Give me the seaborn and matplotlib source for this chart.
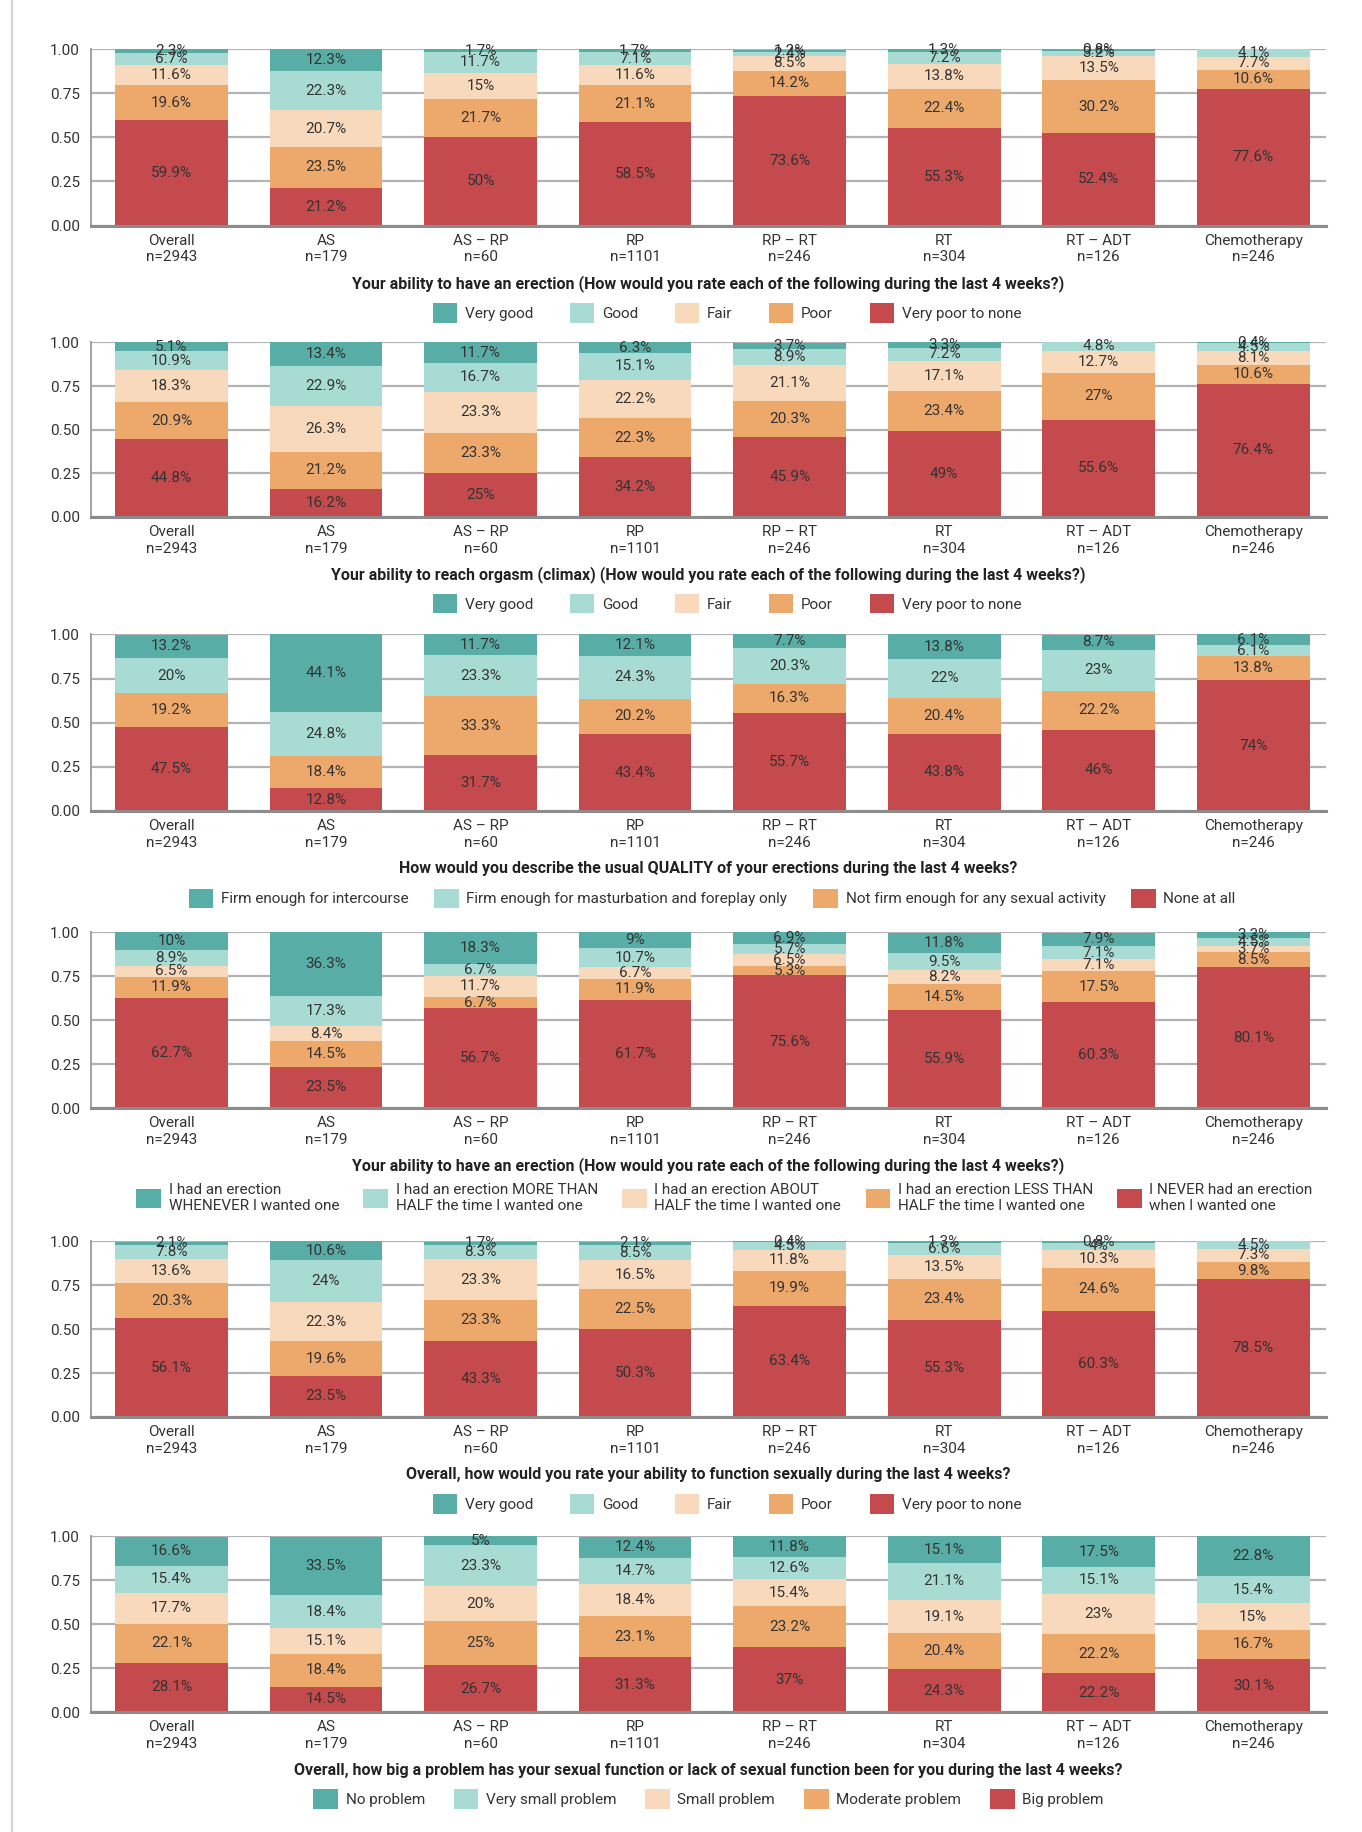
import matplotlib
matplotlib.use("Agg")
import matplotlib.pyplot as plt
from matplotlib import font_manager
from matplotlib.patches import Patch
from matplotlib.lines import Line2D
import numpy as np
import seaborn as sns

# --- data (percent, listed top segment -> bottom segment) ---
groups = ["Overall\nn=2943", "AS\nn=179", "AS – RP\nn=60", "RP\nn=1101",
          "RP – RT\nn=246", "RT\nn=304", "RT – ADT\nn=126", "Chemotherapy\nn=246"]

rating_labels = ["Very good", "Good", "Fair", "Poor", "Very poor to none"]

# Q1: ability to have an erection
q1_very_good = [2.3, 12.3, 1.7, 1.7, 1.2, 1.3, 0.8, 0]
q1_good = [6.7, 22.3, 11.7, 7.1, 2.4, 7.2, 3.2, 4.1]
q1_fair = [11.6, 20.7, 15, 11.6, 8.5, 13.8, 13.5, 7.7]
q1_poor = [19.6, 23.5, 21.7, 21.1, 14.2, 22.4, 30.2, 10.6]
q1_very_poor = [59.9, 21.2, 50, 58.5, 73.6, 55.3, 52.4, 77.6]

# Q2: ability to reach orgasm
q2_very_good = [5.1, 13.4, 11.7, 6.3, 3.7, 3.3, 0, 0.4]
q2_good = [10.9, 22.9, 16.7, 15.1, 8.9, 7.2, 4.8, 4.5]
q2_fair = [18.3, 26.3, 23.3, 22.2, 21.1, 17.1, 12.7, 8.1]
q2_poor = [20.9, 21.2, 23.3, 22.3, 20.3, 23.4, 27, 10.6]
q2_very_poor = [44.8, 16.2, 25, 34.2, 45.9, 49, 55.6, 76.4]

# Q3: usual quality of erections
quality_labels = ["Firm enough for intercourse",
                  "Firm enough for masturbation and foreplay only",
                  "Not firm enough for any sexual activity", "None at all"]
q3_intercourse = [13.2, 44.1, 11.7, 12.1, 7.7, 13.8, 8.7, 6.1]
q3_foreplay = [20, 24.8, 23.3, 24.3, 20.3, 22, 23, 6.1]
q3_not_firm = [19.2, 18.4, 33.3, 20.2, 16.3, 20.4, 22.2, 13.8]
q3_none = [47.5, 12.8, 31.7, 43.4, 55.7, 43.8, 46, 74]

# Q4: how often an erection when wanted
freq_labels = ["I had an erection\nWHENEVER I wanted one",
               "I had an erection MORE THAN\nHALF the time I wanted one",
               "I had an erection ABOUT\nHALF the time I wanted one",
               "I had an erection LESS THAN\nHALF the time I wanted one",
               "I NEVER had an erection\nwhen I wanted one"]
q4_whenever = [10, 36.3, 18.3, 9, 6.9, 11.8, 7.9, 3.3]
q4_more_half = [8.9, 17.3, 6.7, 10.7, 5.7, 9.5, 7.1, 4.5]
q4_about_half = [6.5, 8.4, 11.7, 6.7, 6.5, 8.2, 7.1, 3.7]
q4_less_half = [11.9, 14.5, 6.7, 11.9, 5.3, 14.5, 17.5, 8.5]
q4_never = [62.7, 23.5, 56.7, 61.7, 75.6, 55.9, 60.3, 80.1]

# Q5: overall sexual function
q5_very_good = [2.1, 10.6, 1.7, 2.1, 0.4, 1.3, 0.8, 0]
q5_good = [7.8, 24, 8.3, 8.5, 4.5, 6.6, 4, 4.5]
q5_fair = [13.6, 22.3, 23.3, 16.5, 11.8, 13.5, 10.3, 7.3]
q5_poor = [20.3, 19.6, 23.3, 22.5, 19.9, 23.4, 24.6, 9.8]
q5_very_poor = [56.1, 23.5, 43.3, 50.3, 63.4, 55.3, 60.3, 78.5]

# Q6: how big a problem
problem_labels = ["No problem", "Very small problem", "Small problem",
                  "Moderate problem", "Big problem"]
q6_none = [16.6, 33.5, 5, 12.4, 11.8, 15.1, 17.5, 22.8]
q6_very_small = [15.4, 18.4, 23.3, 14.7, 12.6, 21.1, 15.1, 15.4]
q6_small = [17.7, 15.1, 20, 18.4, 15.4, 19.1, 23, 15]
q6_moderate = [22.1, 18.4, 25, 23.1, 23.2, 20.4, 22.2, 16.7]
q6_big = [28.1, 14.5, 26.7, 31.3, 37, 24.3, 22.2, 30.1]

titles = [
    "Your ability to have an erection (How would you rate each of the following during the last 4 weeks?)",
    "Your ability to reach orgasm (climax) (How would you rate each of the following during the last 4 weeks?)",
    "How would you describe the usual QUALITY of your erections during the last 4 weeks?",
    "Your ability to have an erection (How would you rate each of the following during the last 4 weeks?)",
    "Overall, how would you rate your ability to function sexually during the last 4 weeks?",
    "Overall, how big a problem has your sexual function or lack of sexual function been for you during the last 4 weeks?",
]

TEAL, LTEAL, PEACH, ORANGE, RED = "#58ada6", "#a8dbd3", "#f8d9bb", "#eda86b", "#c44a4d"
five_colors = [TEAL, LTEAL, PEACH, ORANGE, RED]
four_colors = [TEAL, LTEAL, ORANGE, RED]

sns.set_style("white")
names = {f.name for f in font_manager.fontManager.ttflist}
base_font = "Liberation Sans Narrow" if "Liberation Sans Narrow" in names else "Roboto"
plt.rcParams["font.family"] = [base_font, "DejaVu Sans"]
TXT = "#333333"

W, H = 1362, 1832
fig = plt.figure(figsize=(W / 100, H / 100), dpi=100)

# page border on the left
fig.add_artist(Line2D([11.5 / W, 11.5 / W], [0, 1], transform=fig.transFigure,
                      color="#d6d6d6", lw=1.6))

# axes boxes in pixels: (top, bottom)
ax_left, ax_right = 91, 1326
boxes = [(49, 225.5), (342, 517), (634, 811), (932, 1108), (1241, 1417), (1536, 1712)]


def stacked_panel(box, series, colors, labels, title, leg_x, leg_y, colspace):
    top, bottom = box
    ax = fig.add_axes([ax_left / W, 1 - bottom / H, (ax_right - ax_left) / W, (bottom - top) / H])
    vals = np.array(series, dtype=float) / 100.0
    rev = vals[::-1]                 # bottom -> top
    rev_colors = colors[::-1]
    cum = np.cumsum(rev, axis=0)
    # draw tallest cumulative first, smaller ones on top
    for i in reversed(range(len(rev))):
        sns.barplot(x=groups, y=cum[i], color=rev_colors[i], saturation=1,
                    width=0.73, errorbar=None, linewidth=0, ax=ax, zorder=2)
    # segment labels
    for i in range(len(rev)):
        base = cum[i] - rev[i]
        for j, v in enumerate(rev[i]):
            if v <= 0:
                continue
            ax.text(j, base[j] + v / 2, f"{v * 100:g}%", ha="center", va="center",
                    fontsize=11, color=TXT, zorder=3)
    ax.set_xlim(-0.52, 7.47)
    ax.set_ylim(0, 1.002)
    ax.set_yticks([0, 0.25, 0.5, 0.75, 1.0])
    ax.set_yticklabels(["0.00", "0.25", "0.50", "0.75", "1.00"])
    ax.tick_params(axis="both", length=0, labelsize=11, colors=TXT, pad=6)
    ax.tick_params(axis="y", pad=8)
    ax.yaxis.grid(True, color="#b3b3b3", linewidth=1.6)
    ax.set_axisbelow(True)
    for s in ["top", "right"]:
        ax.spines[s].set_visible(False)
    ax.spines["left"].set_color("#a0a0a0")
    ax.spines["left"].set_linewidth(1.4)
    ax.spines["bottom"].set_color("#8c8c8c")
    ax.spines["bottom"].set_linewidth(2.2)
    ax.set_xlabel("")
    ax.set_ylabel("")
    ax.annotate(title, xy=(0.5, 0), xycoords="axes fraction", xytext=(0, -58 * 0.72),
                textcoords="offset points", ha="center", va="center",
                fontsize=11.5, fontweight="bold", color="#222222")
    handles = [Patch(facecolor=c, edgecolor="none", label=l) for c, l in zip(colors, labels)]
    ax.legend(handles=handles, loc="center", bbox_to_anchor=(leg_x, leg_y),
              ncol=len(handles), frameon=False, fontsize=11, handlelength=1.6,
              handleheight=1.6, handletextpad=0.5, columnspacing=colspace,
              labelcolor=TXT)
    return ax


leg_y = -87 / 176
stacked_panel(boxes[0], [q1_very_good, q1_good, q1_fair, q1_poor, q1_very_poor],
              five_colors, rating_labels, titles[0], 0.515, leg_y, 2.4)
stacked_panel(boxes[1], [q2_very_good, q2_good, q2_fair, q2_poor, q2_very_poor],
              five_colors, rating_labels, titles[1], 0.515, leg_y, 2.4)
stacked_panel(boxes[2], [q3_intercourse, q3_foreplay, q3_not_firm, q3_none],
              four_colors, quality_labels, titles[2], 0.503, leg_y, 1.7)
stacked_panel(boxes[3], [q4_whenever, q4_more_half, q4_about_half, q4_less_half, q4_never],
              five_colors, freq_labels, titles[3], 0.513, -90 / 176, 1.6)
stacked_panel(boxes[4], [q5_very_good, q5_good, q5_fair, q5_poor, q5_very_poor],
              five_colors, rating_labels, titles[4], 0.515, leg_y, 2.4)
stacked_panel(boxes[5], [q6_none, q6_very_small, q6_small, q6_moderate, q6_big],
              five_colors, problem_labels, titles[5], 0.5, leg_y, 1.9)

fig.savefig("out.png", dpi=100, facecolor="white")
